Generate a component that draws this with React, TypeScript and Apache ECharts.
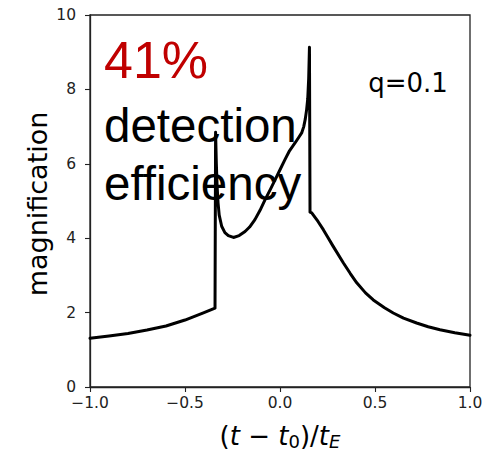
import React, { useEffect, useRef } from "react";
import * as echarts from "echarts";

const tValues: number[] = [
  -1.0, -0.9, -0.8, -0.7, -0.6, -0.5, -0.45, -0.4, -0.342,
  -0.339, -0.335, -0.331, -0.326, -0.32, -0.307, -0.29, -0.272, -0.245, -0.215,
  -0.184, -0.16, -0.132, -0.105, -0.079, -0.05, -0.026, 0.0, 0.026, 0.05,
  0.079, 0.1, 0.114, 0.125, 0.133, 0.14, 0.146, 0.151, 0.155, 0.158,
  0.167, 0.2, 0.228, 0.25, 0.28, 0.333, 0.37, 0.404, 0.45, 0.491, 0.55,
  0.596, 0.65, 0.719, 0.78, 0.842, 0.92, 1.0,
];
const magnification: number[] = [
  1.31, 1.37, 1.44, 1.53, 1.64, 1.8, 1.9, 2.0, 2.12,
  6.85, 6.0, 5.4, 4.95, 4.62, 4.32, 4.15, 4.07, 4.02, 4.07,
  4.18, 4.3, 4.5, 4.75, 5.03, 5.32, 5.57, 5.84, 6.11, 6.35,
  6.56, 6.72, 6.83, 7.0, 7.2, 7.45, 7.75, 8.3, 9.13, 4.7,
  4.68, 4.45, 4.23, 4.04, 3.78, 3.34, 3.05, 2.8, 2.53, 2.34, 2.13,
  1.99, 1.85, 1.72, 1.62, 1.54, 1.46, 1.39,
];
const xTicks: number[] = [-1.0, -0.5, 0.0, 0.5, 1.0];
const yTicks: number[] = [0, 2, 4, 6, 8, 10];

const headline = "41%";
const noteLines = ["detection", "efficiency"];
const paramLabel = "q=0.1";
const yAxisTitle = "magnification";

export default function App() {
  const ref = useRef<HTMLDivElement>(null);
  useEffect(() => {
    if (!ref.current) return;
    const chart = echarts.init(ref.current, null, { renderer: "svg" });
    const fmtX = (v: number) => v.toFixed(1).replace("-", "\u2212");
    const tickFont = {
      fontFamily: "DejaVu Sans",
      fontSize: 15.5,
      color: "#222",
    };
    chart.setOption({
      animation: false,
      grid: {
        left: 90,
        right: 24,
        top: 15,
        bottom: 64,
        containLabel: false,
        outerBoundsMode: "none",
        show: true,
        borderColor: "#222",
        borderWidth: 1.3,
        backgroundColor: "transparent",
      },
      xAxis: {
        type: "value",
        min: xTicks[0],
        max: xTicks[xTicks.length - 1],
        interval: 0.5,
        axisLine: { show: true, onZero: false, lineStyle: { color: "#222", width: 1.3 } },
        axisTick: { show: true, length: 5, inside: false, lineStyle: { color: "#222", width: 1.1 } },
        splitLine: { show: false },
        axisLabel: { ...tickFont, margin: 8, formatter: fmtX },
      },
      yAxis: {
        type: "value",
        min: yTicks[0],
        max: yTicks[yTicks.length - 1],
        interval: 2,
        axisLine: { show: true, onZero: false, lineStyle: { color: "#222", width: 1.3 } },
        axisTick: { show: true, length: 5, inside: false, lineStyle: { color: "#222", width: 1.1 } },
        splitLine: { show: false },
        axisLabel: { ...tickFont, margin: 14 },
      },
      series: [
        {
          type: "line",
          data: tValues.map((t, i) => [t, magnification[i]]),
          showSymbol: false,
          symbol: "none",
          lineStyle: { color: "#000", width: 3, join: "round", cap: "round" },
          z: 3,
        },
      ],
      graphic: [
        {
          type: "text",
          x: 104,
          y: 34,
          z: 10,
          style: {
            text: headline,
            fill: "#c00000",
            font: "52px 'Liberation Sans', Arial, sans-serif",
          },
        },
        {
          type: "text",
          x: 104,
          y: 101,
          z: 10,
          style: {
            text: noteLines[0],
            fill: "#000",
            font: "47.5px 'Liberation Sans', Arial, sans-serif",
          },
        },
        {
          type: "text",
          x: 104,
          y: 159,
          z: 10,
          style: {
            text: noteLines[1],
            fill: "#000",
            font: "47.5px 'Liberation Sans', Arial, sans-serif",
          },
        },
        {
          type: "text",
          x: 408,
          y: 83,
          z: 10,
          style: {
            text: paramLabel,
            fill: "#000",
            font: "26px 'DejaVu Sans', sans-serif",
            textAlign: "center",
            textVerticalAlign: "middle",
          },
        },
        {
          type: "text",
          x: 37,
          y: 204,
          rotation: Math.PI / 2,
          z: 10,
          style: {
            text: yAxisTitle,
            fill: "#000",
            font: "27px 'DejaVu Sans', sans-serif",
            textAlign: "center",
            textVerticalAlign: "middle",
          },
        },
        {
          type: "text",
          x: 280,
          y: 436,
          z: 10,
          style: {
            text: "{n|(}{i|t}{n| \u2212 }{i|t}{s|0}{n|)/}{i|t}{si|E}",
            textAlign: "center",
            textVerticalAlign: "middle",
            rich: {
              n: { fontFamily: "DejaVu Sans", fontSize: 26, fill: "#000" },
              i: { fontFamily: "DejaVu Sans", fontStyle: "oblique", fontSize: 26, fill: "#000" },
              s: { fontFamily: "DejaVu Sans", fontSize: 18, fill: "#000", padding: [10, 0, 0, 0] },
              si: { fontFamily: "DejaVu Sans", fontStyle: "oblique", fontSize: 18, fill: "#000", padding: [10, 0, 0, 0] },
            },
          },
        },
      ],
    });
    return () => chart.dispose();
  }, []);
  return (
    <div
      ref={ref}
      style={{ position: "fixed", left: 0, top: 0, width: 494, height: 451, background: "#fff" }}
    />
  );
}
